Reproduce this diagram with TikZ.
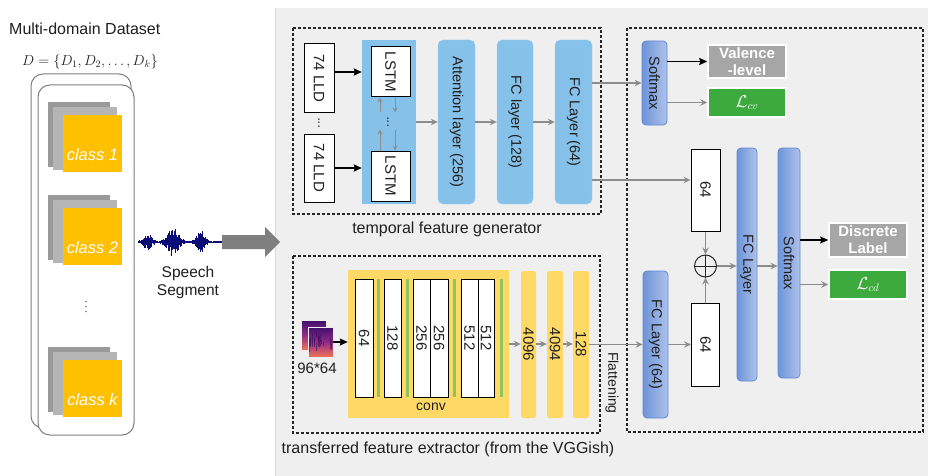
\documentclass[tikz,border=0pt]{standalone}
\usepackage{fontspec}
\setmainfont{Liberation Sans}
\usepackage{graphicx}
\usetikzlibrary{arrows.meta,calc}

\definecolor{panelgray}{HTML}{EFEFEF}
\definecolor{tblue}{HTML}{86C1E9}
\definecolor{tblueedge}{HTML}{A3D0EF}
\definecolor{rblueL}{HTML}{6E94D8}
\definecolor{rblueR}{HTML}{AEC2EA}
\definecolor{rblueedge}{HTML}{5F8AD4}
\definecolor{vyellow}{HTML}{FFD966}
\definecolor{corange}{HTML}{FFC000}
\definecolor{bargreen}{HTML}{8FC45A}
\definecolor{labgray}{HTML}{A6A6A6}
\definecolor{lossgreen}{HTML}{3CAA3C}
\definecolor{arrgray}{HTML}{8C8C8C}
\definecolor{txt}{HTML}{1F1F1F}
\definecolor{wave}{HTML}{0B0B78}
\definecolor{framegray}{HTML}{7F7F7F}
\definecolor{slabA}{HTML}{9A9A9A}
\definecolor{slabB}{HTML}{B5B5B5}
\definecolor{specTop}{HTML}{3E0F6E}
\definecolor{specMid}{HTML}{932B85}
\definecolor{specBot}{HTML}{F07457}

\tikzset{
  fs/.style={font=\fontsize{#1}{18}\selectfont},
  tlay/.style={fill=tblue, draw=tblueedge, rounded corners=5pt, inner sep=0pt, text=txt, fs=14.5},
  rlay/.style={left color=rblueL, right color=rblueR, draw=rblueedge, line width=0.8pt,
               rounded corners=4pt, inner sep=0pt, text=txt, fs=14.5},
  wcell/.style={fill=white, draw=black, line width=1pt, inner sep=0pt, text=txt, fs=15},
  ylay/.style={fill=vyellow, rounded corners=2.5pt, inner sep=0pt, text=txt, fs=15},
  outlab/.style={draw=white, line width=1.5pt, inner sep=0pt, text=white, align=center,
                 font=\fontsize{15}{17}\selectfont\bfseries},
  dashframe/.style={draw=black!85, dash pattern=on 3pt off 2pt, line width=1.1pt},
  garr/.style={draw=arrgray, line width=1.1pt, -{Stealth[length=7pt,width=6.5pt,inset=2.5pt]}},
  gsmall/.style={draw=arrgray, line width=1pt, -{Stealth[length=5pt,width=5pt,inset=2pt]}},
  barr/.style={draw=black, line width=1.4pt, -{Stealth[length=8pt,width=7pt,inset=1pt]}},
  captxt/.style={text=txt, fs=16, inner sep=0pt},
}

\begin{document}
\begin{tikzpicture}[x=1pt,y=-1pt]
\useasboundingbox (0,0) rectangle (928,476);
\fill[white] (0,0) rectangle (928,476);
\fill[panelgray] (275,8) rectangle (928,476);
\draw[black!15, line width=0.8pt] (275,8) -- (275,476);

% ---------------- dataset column ----------------
\node[captxt, anchor=west] (dstitle) at (9,29) {Multi-domain Dataset};
\node[captxt, fs=14.5] (dsset) at (90,62) {$D=\{D_1,D_2,\dots,D_k\}$};

\draw[framegray, fill=white, line width=1pt, rounded corners=12pt] (31,74) rectangle (131,428);
\draw[framegray, fill=white, line width=1pt, rounded corners=12pt] (38,85) rectangle (134,435);

\foreach \yy/\lab in {115/1, 208/2, 360/k} {
  \fill[slabA] (48,\yy-13) rectangle (110,\yy+52);
  \fill[slabB] (53,\yy-8) rectangle (117,\yy+55);
  \node[fill=corange, minimum width=59pt, minimum height=57pt, inner sep=0pt]
       (card\lab) at (92.5,\yy+28.5) {};
  \node[text=white, inner sep=0pt, font=\fontsize{16.5}{18}\selectfont\itshape]
       (cardtxt\lab) at (92.5,\yy+40) {class \lab};
}
% vertical ellipsis between the class cards
\foreach \dy in {301.5,306.5,311.5} {
  \fill[black!55] (86,\dy) circle (0.9pt);
}

% ---------------- speech segment ----------------
\pgfmathsetseed{12}
\draw[wave, line width=0.6pt] (138,242) -- (222,242);
\foreach \i in {0,...,140} {
  \pgfmathsetmacro{\xx}{138+\i*0.6}
  \pgfmathsetmacro{\env}{1.2+7*exp(-((\xx-148)/5)^2)+13*exp(-((\xx-173)/7)^2)+10*exp(-((\xx-201)/5)^2)}
  \pgfmathsetmacro{\up}{\env*(0.3+0.7*rnd)}
  \pgfmathsetmacro{\dn}{\env*(0.3+0.7*rnd)}
  \draw[wave, line width=0.8pt] (\xx,242-\up) -- (\xx,242+\dn);
}
\node[captxt, fs=15.5] (sp1) at (188,273) {Speech};
\node[captxt, fs=15.5] (sp2) at (188,292) {Segment};
\fill[framegray] (222,235) -- (265,235) -- (265,227) -- (280,242) -- (265,257)
                 -- (265,249) -- (222,249) -- cycle;

% ---------------- temporal feature generator ----------------
\draw[dashframe] (293,28) rectangle (601,214);
\node[captxt] (tcap) at (447,229) {temporal feature generator};

\node[wcell, minimum width=30pt, minimum height=69pt] (lld1) at (319,78.5) {\rotatebox{-90}{74 LLD}};
\node[wcell, minimum width=30pt, minimum height=68pt] (lld2) at (319,168) {\rotatebox{-90}{74 LLD}};
\node[text=txt, inner sep=0pt, fs=13] (llddots) at (319,123) {\rotatebox{90}{...}};

\node[fill=tblue, minimum width=54pt, minimum height=164pt, inner sep=0pt] (lstmbg) at (389,122) {};
\node[wcell, minimum width=39pt, minimum height=50pt] (lstm1) at (390.5,72) {\rotatebox{-90}{LSTM}};
\node[wcell, minimum width=39pt, minimum height=50pt] (lstm2) at (390.5,176) {\rotatebox{-90}{LSTM}};
\node[text=txt, inner sep=0pt, fs=13] (lstmdots) at (388,122) {\rotatebox{90}{...}};

\draw[gsmall] ([xshift=-10.5pt,yshift=-15pt]lstm1.south) -- ([xshift=-10.5pt]lstm1.south);
\draw[gsmall] ([xshift=4.5pt]lstm1.south) -- ([xshift=4.5pt,yshift=-15pt]lstm1.south);
\draw[gsmall] ([xshift=-10.5pt]lstm2.north) -- ([xshift=-10.5pt,yshift=21pt]lstm2.north);
\draw[gsmall] ([xshift=4.5pt,yshift=21pt]lstm2.north) -- ([xshift=4.5pt]lstm2.north);

\draw[barr] (lld1.east |- lstm1.center) -- (lstmbg.west |- lstm1.center);
\draw[barr] (lld2.east) -- (lld2.east -| lstmbg.west);

\node[tlay, minimum width=37pt, minimum height=164pt] (att) at (456.5,122) {\rotatebox{-90}{Attention layer (256)}};
\node[tlay, minimum width=36pt, minimum height=164pt] (fc128) at (515,122) {\rotatebox{-90}{FC layer (128)}};
\node[tlay, minimum width=37pt, minimum height=164pt] (fc64) at (573.5,122) {\rotatebox{-90}{FC Layer (64)}};

\draw[garr] (lstmbg.east) -- (att.west);
\draw[garr] (att.east) -- (fc128.west);
\draw[garr] (fc128.east) -- (fc64.west);

% ---------------- transferred feature extractor ----------------
\draw[dashframe] (293,256) rectangle (600,433);
\node[captxt] (vcap) at (448,449) {transferred feature extractor (from the VGGish)};

\node[minimum width=25pt, minimum height=30pt, inner sep=0pt, draw=white!85!gray, line width=0.6pt,
      top color=specTop, bottom color=specBot, middle color=specMid] (specback) at (313.5,335) {};
\node[minimum width=25pt, minimum height=30pt, inner sep=0pt, draw=white!85!gray, line width=0.6pt,
      top color=specTop, bottom color=specBot, middle color=specMid] (spec) at (320.5,342) {};
\pgfmathsetseed{5}
\foreach \k in {1,...,16} {
  \pgfmathsetmacro{\sx}{309+23*rnd}
  \pgfmathsetmacro{\sy}{330+14*rnd}
  \draw[specTop!80!black, opacity=0.55, line width=0.7pt] (\sx,\sy) -- (\sx,\sy+10*rnd+3);
}
\node[captxt, fs=15] (speclab) at (317,368) {96*64};

\node[fill=vyellow, minimum width=161pt, minimum height=148pt, inner sep=0pt] (conv) at (428.5,344) {};
\node[captxt, fs=14] (convlab) at (431,407) {conv};
\foreach \cx/\cw/\ct/\cn in {364/18/64/ca, 392.5/17/128/cb, 421.5/17/256/cc,
                             439/18/256/cd, 469.5/17/512/ce, 486/16/512/cf} {
  \node[wcell, minimum width=\cw pt, minimum height=118pt] (\cn) at (\cx,338) {\rotatebox{-90}{\ct}};
}
\foreach \gx in {378,407,454,501} {
  \fill[bargreen] (\gx-1.5,279) rectangle (\gx+1.5,397);
}
\draw[barr] (spec.east) -- (spec.east -| conv.west);

\node[ylay, minimum width=15pt, minimum height=147pt] (y4096) at (528.5,344.5) {\rotatebox{-90}{4096}};
\node[ylay, minimum width=16pt, minimum height=147pt] (y4094) at (555,344.5) {\rotatebox{-90}{4094}};
\node[ylay, minimum width=16pt, minimum height=147pt] (y128) at (581,344.5) {\rotatebox{-90}{128}};
\draw[garr] (conv.east) -- (conv.east -| y4096.west);
\draw[garr] (y4096.east |- conv.east) -- (conv.east -| y4094.west);
\draw[garr] (y4094.east |- conv.east) -- (conv.east -| y128.west);

% ---------------- fusion and classification ----------------
\draw[dashframe] (627,28) rectangle (923,432);

\node[rlay, minimum width=25pt, minimum height=84pt] (sm1) at (654.5,83) {\rotatebox{-90}{Softmax}};
\node[outlab, fill=labgray, minimum width=78pt, minimum height=33pt] (val) at (747,61.5) {Valence\\-level};
\node[outlab, fill=lossgreen, minimum width=78pt, minimum height=29pt, fs=16] (lcv) at (747,102.5) {$\mathcal{L}_{cv}$};
\draw[garr] (fc64.east |- sm1.west) -- (sm1.west);
\draw[barr] (sm1.east |- val.west) -- (val.west);
\draw[garr] (sm1.east |- lcv.west) -- (lcv.west);

\node[wcell, minimum width=29pt, minimum height=82pt] (u64) at (705.5,190) {\rotatebox{-90}{64}};
\coordinate (u64in) at ([yshift=10pt]u64.west);
\draw[garr] (fc64.east |- u64in) -- (u64in);

\node[rlay, minimum width=25pt, minimum height=147pt] (fcl64) at (655.5,344.5) {\rotatebox{-90}{FC Layer (64)}};
\node[wcell, minimum width=28pt, minimum height=83pt] (l64) at (705.5,344.5) {\rotatebox{-90}{64}};
\draw[garr] (y128.east) -- (y128.east -| fcl64.west);
\node[text=txt, inner sep=0pt, fs=14] (flat) at (612,383) {\rotatebox{-90}{Flattening}};
\draw[garr] (fcl64.east) -- (fcl64.east -| l64.west);

\node[circle, draw=black!85, line width=1pt, minimum size=22pt, inner sep=0pt] (plus) at (705.5,266) {};
\draw[black!85, line width=1pt] (plus.north) -- (plus.south) (plus.west) -- (plus.east);
\draw[garr] (u64.south) -- (plus.north);
\draw[garr] (l64.north) -- (plus.south);

\node[rlay, minimum width=20pt, minimum height=233pt] (fcl) at (747,264.5) {\rotatebox{-90}{FC Layer}};
\node[rlay, minimum width=22pt, minimum height=230pt] (sm2) at (789,263) {\rotatebox{-90}{Softmax}};
\draw[garr] (plus.east) -- (plus.east -| fcl.west);
\draw[garr] (plus.east -| fcl.east) -- (plus.east -| sm2.west);

\node[outlab, fill=labgray, minimum width=78pt, minimum height=34pt] (disc) at (868,240) {Discrete\\Label};
\node[outlab, fill=lossgreen, minimum width=78pt, minimum height=29pt, fs=16] (lcd) at (868,284.5) {$\mathcal{L}_{cd}$};
\draw[barr] (sm2.east |- disc.west) -- (disc.west);
\draw[garr] (sm2.east |- lcd.west) -- (lcd.west);
\end{tikzpicture}
\end{document}
